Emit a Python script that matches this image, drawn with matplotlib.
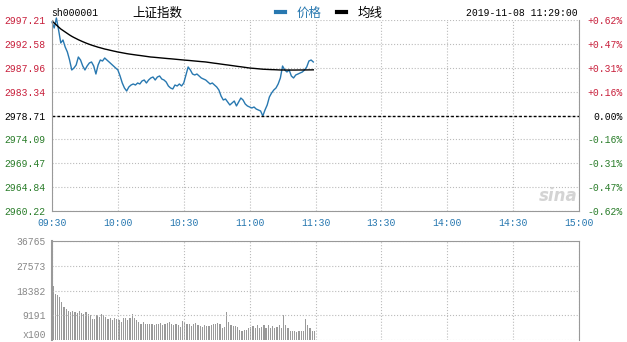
import matplotlib.pyplot as plt
import numpy as np

# intraday data, 09:30 - 11:29 (one value per minute)
prev_close = 2978.71

price = [2996.82, 2995.66, 2997.60, 2995.27, 2992.76, 2993.34, 2991.98, 2991.01, 2989.46, 2987.53,
         2987.91, 2988.50, 2990.04, 2989.46, 2988.30, 2987.53, 2988.30, 2988.88, 2989.08, 2988.30,
         2986.75, 2988.50, 2989.46, 2989.27, 2989.85, 2989.46, 2989.08, 2988.69, 2988.30, 2987.91,
         2987.53, 2986.37, 2985.01, 2984.04, 2983.46, 2984.24, 2984.62, 2984.82, 2984.62, 2985.01,
         2984.82, 2985.40, 2985.59, 2985.01, 2985.59, 2985.98, 2986.17, 2985.59, 2986.17, 2986.37,
         2985.78, 2985.59, 2985.20, 2984.43, 2984.04, 2983.85, 2984.62, 2984.43, 2984.82, 2984.43,
         2985.01, 2986.56, 2988.11, 2987.53, 2986.75, 2986.56, 2986.75, 2986.37, 2985.98, 2985.78,
         2985.59, 2985.20, 2984.82, 2985.01, 2984.62, 2984.24, 2983.65, 2982.49, 2981.72, 2981.91,
         2981.33, 2980.75, 2981.14, 2981.52, 2980.56, 2981.33, 2982.10, 2981.72, 2980.94, 2980.56,
         2980.36, 2980.17, 2980.36, 2979.97, 2979.78, 2979.59, 2978.62, 2979.78, 2980.75, 2982.30,
         2983.07, 2983.65, 2984.04, 2984.82, 2985.98, 2988.30, 2987.53, 2987.14, 2987.53, 2986.37,
         2985.98, 2986.56, 2986.75, 2986.95, 2987.14, 2987.53, 2988.11, 2989.27, 2989.46, 2989.08]

avg = [2997.02, 2996.63, 2996.24, 2995.85, 2995.47, 2995.18, 2994.89, 2994.60, 2994.31, 2994.05,
       2993.82, 2993.61, 2993.39, 2993.20, 2993.01, 2992.83, 2992.66, 2992.50, 2992.35, 2992.21,
       2992.08, 2991.94, 2991.83, 2991.71, 2991.59, 2991.50, 2991.40, 2991.30, 2991.20, 2991.11,
       2991.01, 2990.94, 2990.86, 2990.78, 2990.70, 2990.63, 2990.57, 2990.51, 2990.45, 2990.39,
       2990.34, 2990.28, 2990.22, 2990.16, 2990.10, 2990.04, 2990.01, 2989.97, 2989.93, 2989.89,
       2989.85, 2989.81, 2989.77, 2989.73, 2989.70, 2989.66, 2989.62, 2989.58, 2989.54, 2989.50,
       2989.46, 2989.42, 2989.39, 2989.35, 2989.31, 2989.27, 2989.23, 2989.19, 2989.15, 2989.12,
       2989.08, 2989.02, 2988.96, 2988.90, 2988.84, 2988.79, 2988.73, 2988.67, 2988.61, 2988.55,
       2988.50, 2988.44, 2988.38, 2988.32, 2988.26, 2988.20, 2988.15, 2988.09, 2988.03, 2987.97,
       2987.91, 2987.87, 2987.84, 2987.80, 2987.76, 2987.72, 2987.68, 2987.66, 2987.64, 2987.62,
       2987.60, 2987.59, 2987.57, 2987.55, 2987.53, 2987.53, 2987.53, 2987.52, 2987.52, 2987.52,
       2987.52, 2987.52, 2987.53, 2987.53, 2987.53, 2987.54, 2987.54, 2987.55, 2987.55, 2987.56]

volume = [20200, 17000, 16800, 16000, 14000, 12300, 11400, 10800, 10300, 10800,
          10300, 9900, 10800, 9900, 9500, 10300, 9500, 9200, 7900, 7900,
          9200, 8600, 9500, 9300, 8600, 7900, 8200, 7400, 8200, 7900,
          7400, 6700, 8200, 8200, 7400, 8200, 9500, 8200, 7400, 6700,
          6100, 6500, 6100, 5900, 6100, 6100, 5500, 5800, 5800, 6300,
          5600, 5900, 6300, 6600, 6000, 5500, 5800, 5500, 4900, 7000,
          6600, 6100, 5900, 5200, 6100, 6300, 5500, 5200, 4900, 5500,
          5100, 5200, 5500, 5800, 6100, 6300, 5900, 4500, 4700, 10400,
          6700, 5600, 5300, 5200, 5000, 3600, 3500, 3800, 3600, 4300,
          4900, 5200, 4600, 5500, 4300, 4900, 5600, 4600, 5400, 4600,
          5200, 4300, 5000, 5600, 4600, 9400, 5500, 4500, 3400, 3200,
          3300, 3100, 3300, 3200, 3400, 7900, 5400, 4400, 3400, 3300]

price_ticks = [2997.21, 2992.58, 2987.96, 2983.34, 2978.71, 2974.09, 2969.47, 2964.84, 2960.22]
pct_labels = ["+0.62%", "+0.47%", "+0.31%", "+0.16%", "0.00%", "-0.16%", "-0.31%", "-0.47%", "-0.62%"]
time_ticks = [0, 30, 60, 90, 120, 150, 180, 210, 240]
time_labels = ["09:30", "10:00", "10:30", "11:00", "11:30", "13:30", "14:00", "14:30", "15:00"]
vol_ticks = [0, 9191, 18382, 27573, 36765]
vol_labels = ["x100", "9191", "18382", "27573", "36765"]

mono = "Liberation Mono"
cjk = ["Noto Sans CJK SC", "DejaVu Sans"]
red = "#c8203c"
green = "#2a7d2a"
blue = "#2878b0"
grey = "#999999"

W, H = 627, 342
fig = plt.figure(figsize=(W / 100, H / 100), dpi=100)
ax = fig.add_axes([52 / W, 1 - 211 / H, 527 / W, 191 / H])
axv = fig.add_axes([52 / W, 1 - 340 / H, 527 / W, 99 / H])

t = np.arange(len(price))

# price panel
ax.plot(t, price, color=blue, lw=1, clip_on=False, label="价格")
ax.plot(t, avg, color="black", lw=1, label="均线")
ax.axhline(prev_close, color="black", lw=1, ls=(0, (2, 1.5)))
ax.set_xlim(0, 240)
ax.set_ylim(price_ticks[-1], price_ticks[0])
ax.set_yticks(price_ticks)
ax.set_yticklabels([f"{p:.2f}" for p in price_ticks])
ax.set_xticks(time_ticks)
ax.set_xticklabels(time_labels)
ax.grid(True, ls=":", color="#bbbbbb", lw=0.8)
ax.tick_params(length=0, labelsize=7, pad=4.5)
ax.tick_params(axis="x", colors=blue, pad=5)
for lab in ax.get_xticklabels() + ax.get_yticklabels():
    lab.set_family(mono)
for lab, p in zip(ax.get_yticklabels(), price_ticks):
    lab.set_color(red if p > prev_close else (green if p < prev_close else "black"))
ax.spines["top"].set_visible(False)
for s in ["left", "bottom", "right"]:
    ax.spines[s].set_color(grey)

ax2 = ax.twinx()
ax2.set_ylim(ax.get_ylim())
ax2.set_yticks(price_ticks)
ax2.set_yticklabels(pct_labels)
ax2.tick_params(length=0, labelsize=7, pad=31.5)
for lab, p in zip(ax2.get_yticklabels(), price_ticks):
    lab.set_family(mono)
    lab.set_ha("right")
    lab.set_color(red if p > prev_close else (green if p < prev_close else "black"))
for s in ax2.spines.values():
    s.set_visible(False)

ax.text(0.998, 0.079, "sina", transform=ax.transAxes, ha="right", va="center",
        fontsize=12, style="italic", weight="bold", color="#d4d4d4")

# volume panel
axv.bar(t + 0.5, volume, width=0.55, color="#9a9a9a")
axv.set_xlim(0, 240)
axv.set_ylim(0, vol_ticks[-1])
axv.set_xticks(time_ticks)
axv.set_xticklabels([])
axv.set_yticks(vol_ticks)
axv.set_yticklabels(vol_labels)
axv.grid(True, ls=":", color="#bbbbbb", lw=0.8)
axv.tick_params(length=0, labelsize=7, pad=4.5, colors="#888888")
for lab in axv.get_yticklabels():
    lab.set_family(mono)
axv.get_yticklabels()[0].set_va("bottom")
axv.spines["bottom"].set_visible(False)
for s in ["left", "top", "right"]:
    axv.spines[s].set_color(grey)
axv.spines["left"].set_linewidth(1.5)

# header
fig.text(51 / W, 1 - 13 / H, "sh000001", family=mono, fontsize=7, va="center")
fig.text(132 / W, 1 - 13 / H, "上证指数", family=cjk, fontsize=9, va="center")
fig.text(578 / W, 1 - 13 / H, "2019-11-08 11:29:00", family=mono, fontsize=7,
         va="center", ha="right")
leg = ax.legend(loc="center left", bbox_to_anchor=(276 / W, 1 - 13 / H),
                bbox_transform=fig.transFigure, ncol=2, frameon=False,
                borderaxespad=0, borderpad=0, handlelength=0.75,
                handletextpad=0.9, columnspacing=1.2,
                prop={"family": cjk, "size": 9})
for line in leg.get_lines():
    line.set_linewidth(3)
leg.get_texts()[0].set_color(blue)

fig.savefig("out.png", dpi=100)
